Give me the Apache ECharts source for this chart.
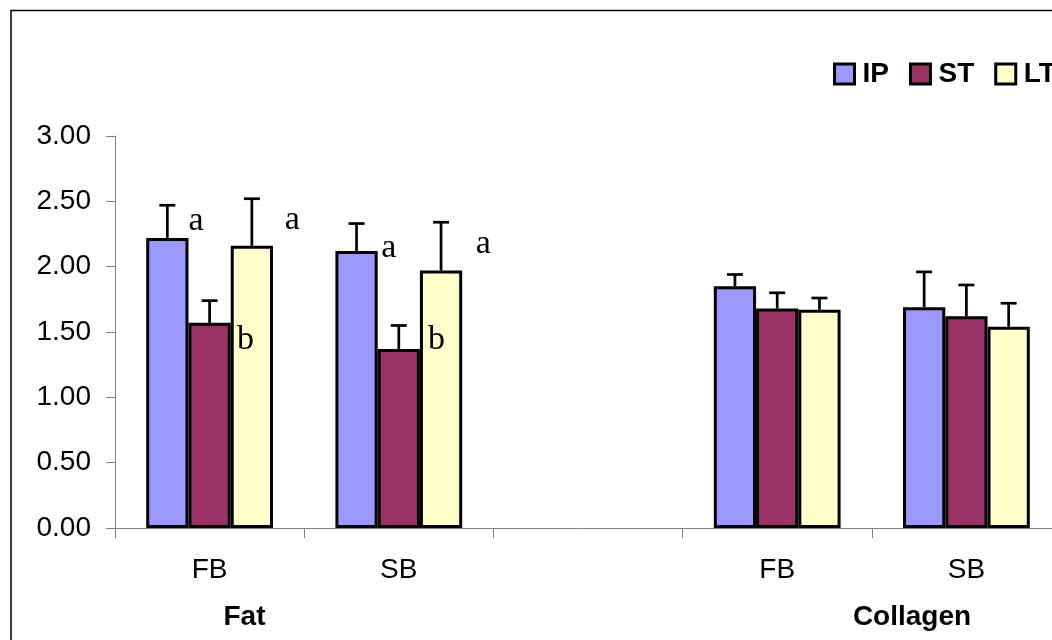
<!DOCTYPE html>
<html><head><meta charset="utf-8">
<script src="https://cdn.jsdelivr.net/npm/echarts@6/dist/echarts.min.js"></script>
<style>html,body{margin:0;padding:0;background:#fff}#c{width:1052px;height:640px}</style>
</head><body><div id="c"></div>
<script>
// ---- data ----
const categories = ['Fat FB', 'Fat SB', 'gap', 'Collagen FB', 'Collagen SB'];
const tickLabels = ['FB', 'SB', '', 'FB', 'SB'];
const groupLabels = ['Fat', 'Collagen'];
const seriesNames = ['IP', 'ST', 'LT'];
const ipValues = [2.22, 2.12, null, 1.85, 1.69];
const ipUpper  = [2.47, 2.33, null, 1.94, 1.96];
const stValues = [1.57, 1.37, null, 1.68, 1.62];
const stUpper  = [1.74, 1.55, null, 1.80, 1.86];
const ltValues = [2.16, 1.97, null, 1.67, 1.54];
const ltUpper  = [2.52, 2.34, null, 1.76, 1.72];
const ipLetters = ['a', 'a', '', '', ''];
const stLetters = ['b', 'b', '', '', ''];
const ltLetters = ['a', 'a', '', '', ''];
const yMin = 0, yMax = 3, yStep = 0.5;

// ---- styles ----
const colors = ['#9999FF', '#993366', '#FFFFCC'];
const CAT_GAP = 0.33;
// letter pixel offsets relative to bar top-right corner [dx, dy] per series per category
const letterOffsets = [
  [[7.5, -16.9], [11, -2.8]],
  [[14.8, 17.2], [16.5, -8.8]],
  [[19.2, -25.5], [21, -26.2]]
];
const sansFont = '"Liberation Sans", Arial, sans-serif';

const values = [ipValues, stValues, ltValues];
const uppers = [ipUpper, stUpper, ltUpper];
const letters = [ipLetters, stLetters, ltLetters];

function makeErrSeries(k) {
  const data = categories.map((c, i) => [i, values[k][i], uppers[k][i], letters[k][i]])
    .filter(d => d[1] != null);
  return {
    type: 'custom',
    z: 5,
    data: data,
    encode: { x: 0, y: [1, 2] },
    renderItem: function (params, api) {
      const cat = api.value(0), v = api.value(1), up = api.value(2);
      const band = api.size([1, 0])[0];
      const barW = band * (1 - CAT_GAP) / 3;
      const base = api.coord([cat, v]);
      const top = api.coord([cat, up]);
      const x = base[0] + (k - 1) * barW;
      const capHalf = 8;
      const children = [
        { type: 'line', shape: { x1: x, y1: base[1], x2: x, y2: top[1] }, style: { stroke: '#000', lineWidth: 2.7 } },
        { type: 'line', shape: { x1: x - capHalf, y1: top[1], x2: x + capHalf, y2: top[1] }, style: { stroke: '#000', lineWidth: 2.7 } }
      ];
      const letter = data[params.dataIndex][3];
      if (letter) {
        const off = letterOffsets[k][params.dataIndex];
        children.push({
          type: 'text',
          style: {
            text: letter, x: x + barW / 2 + off[0], y: base[1] + off[1],
            align: 'center', verticalAlign: 'middle',
            font: '34px "Liberation Serif", "Times New Roman", serif', fill: '#000'
          }
        });
      }
      return { type: 'group', children: children };
    }
  };
}

const chart = echarts.init(document.getElementById('c'), null, { renderer: 'canvas' });
const barSeries = seriesNames.map((name, k) => ({
  name: name,
  type: 'bar',
  data: values[k],
  barGap: '0%',
  barCategoryGap: (CAT_GAP * 100) + '%',
  itemStyle: { color: colors[k], borderColor: '#000', borderWidth: 3 },
  emphasis: { disabled: true },
  animation: false
}));

chart.setOption({
  animation: false,
  color: colors,
  grid: { left: 115, top: 136, width: 946, height: 392, containLabel: false, outerBoundsMode: 'none' },
  legend: {
    data: seriesNames,
    left: 833, top: 60, width: 400,
    orient: 'horizontal',
    padding: 0,
    itemWidth: 20, itemHeight: 20, itemGap: 20,
    icon: 'rect',
    itemStyle: { borderColor: '#000', borderWidth: 3 },
    textStyle: { fontFamily: sansFont, fontWeight: 'bold', fontSize: 28, color: '#000', padding: [0, 0, 0, 3] },
    selectedMode: false
  },
  xAxis: {
    type: 'category',
    data: categories,
    axisLine: { lineStyle: { color: '#808080', width: 1 } },
    axisTick: { show: true, length: 10, inside: false, lineStyle: { color: '#808080' } },
    axisLabel: {
      formatter: (v, i) => tickLabels[i],
      fontFamily: sansFont, fontSize: 28, color: '#000', margin: 28, interval: 0
    },
    splitLine: { show: false }
  },
  yAxis: {
    type: 'value',
    min: yMin, max: yMax, interval: yStep,
    axisLine: { show: true, lineStyle: { color: '#808080', width: 1 } },
    axisTick: { show: true, length: 9, lineStyle: { color: '#808080' } },
    axisLabel: {
      formatter: v => v.toFixed(2),
      fontFamily: sansFont, fontSize: 28, color: '#000', margin: 24
    },
    splitLine: { show: false }
  },
  graphic: [
    { type: 'rect', shape: { x: 11, y: 10.5, width: 1200, height: 800 }, style: { fill: 'none', stroke: '#000', lineWidth: 1.5 }, silent: true },
    { type: 'text', style: { text: groupLabels[0], x: 244.5, y: 617.5, align: 'center', verticalAlign: 'middle', font: 'bold 28px ' + sansFont, fill: '#000' } },
    { type: 'text', style: { text: groupLabels[1], x: 912, y: 617.5, align: 'center', verticalAlign: 'middle', font: 'bold 28px ' + sansFont, fill: '#000' } }
  ],
  series: barSeries.concat([0, 1, 2].map(makeErrSeries))
});
</script>
</body></html>
